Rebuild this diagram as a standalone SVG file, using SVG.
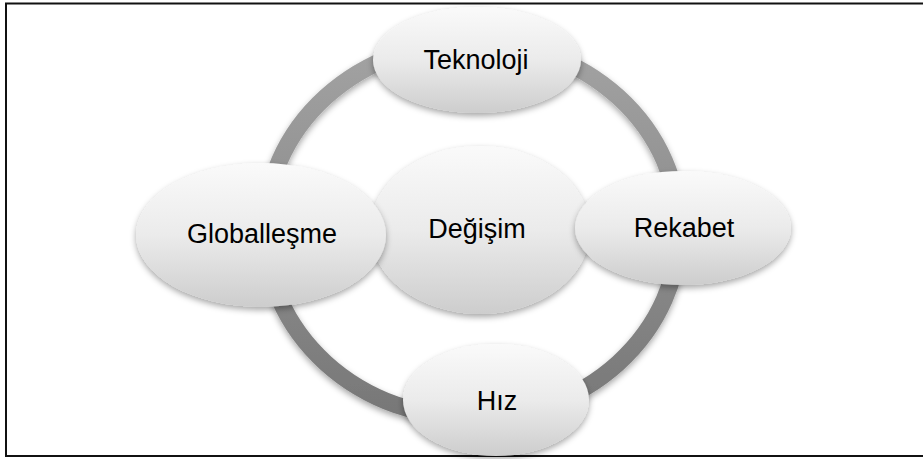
<svg xmlns="http://www.w3.org/2000/svg" width="923" height="459" viewBox="0 0 923 459">
<style>
.node{fill:url(#bubble);filter:url(#sh);}
.lbl{font-family:"Liberation Sans",Arial,sans-serif;font-size:27px;fill:#000;text-anchor:middle;}
</style>
<defs>
<linearGradient id="bubble" x1="0" y1="0" x2="0" y2="1">
<stop offset="0" stop-color="#fafafa"/>
<stop offset="0.5" stop-color="#ebebeb"/>
<stop offset="1" stop-color="#cdcdcd"/>
</linearGradient>
<linearGradient id="ringg" gradientUnits="userSpaceOnUse" x1="0" y1="42" x2="0" y2="418">
<stop offset="0" stop-color="#a3a3a3"/>
<stop offset="1" stop-color="#777777"/>
</linearGradient>
<filter id="sh" x="-20%" y="-20%" width="140%" height="150%">
<feDropShadow dx="0" dy="3" stdDeviation="3" flood-color="#000" flood-opacity="0.35"/>
</filter>
</defs>
<rect width="923" height="459" fill="#fff"/>
<rect x="6" y="3.5" width="925" height="452.5" fill="none" stroke="#111" stroke-width="2"/>
<g id="connectors">
<ellipse cx="472" cy="230" rx="207" ry="188" fill="none" stroke="url(#ringg)" stroke-width="17" filter="url(#sh)"/>
</g>
<g id="node-degisim">
<ellipse class="node" cx="480" cy="230" rx="110" ry="84"/>
<text class="lbl" x="477" y="238">Değişim</text>
</g>
<g id="node-teknoloji">
<ellipse class="node" cx="477" cy="60" rx="104" ry="53"/>
<text class="lbl" x="476" y="69">Teknoloji</text>
</g>
<g id="node-rekabet">
<ellipse class="node" cx="683" cy="228" rx="108" ry="57"/>
<text class="lbl" x="684" y="237">Rekabet</text>
</g>
<g id="node-hiz">
<ellipse class="node" cx="496" cy="400" rx="93" ry="56"/>
<text class="lbl" x="497" y="410">Hız</text>
</g>
<g id="node-globallesme">
<ellipse class="node" cx="261" cy="235" rx="125" ry="72"/>
<text class="lbl" x="262" y="243">Globalleşme</text>
</g>
</svg>
